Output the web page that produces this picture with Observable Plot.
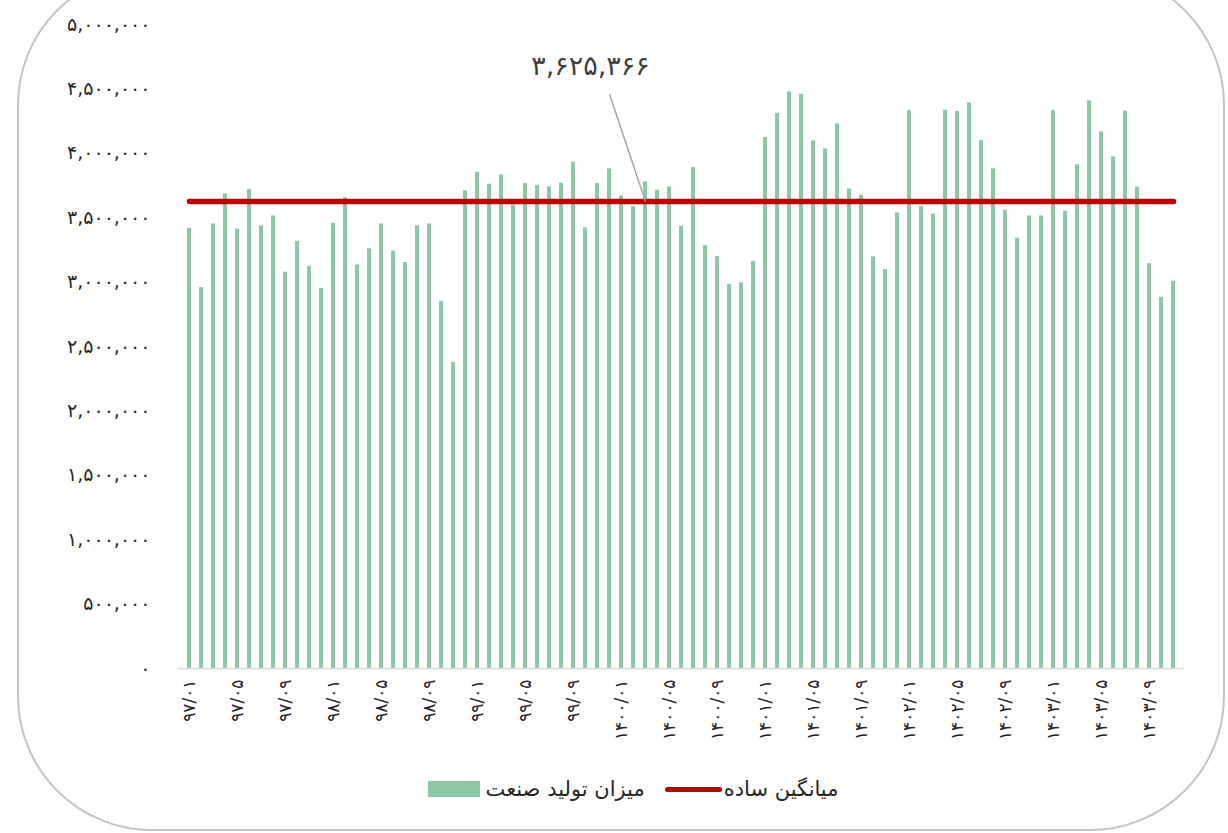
<!DOCTYPE html>
<html>
<head>
<meta charset="utf-8">
<script src="https://cdn.jsdelivr.net/npm/d3@7"></script>
<script src="https://cdn.jsdelivr.net/npm/@observablehq/plot@0.6"></script>
<style>
  html, body { margin: 0; padding: 0; background: #fff; }
  #wrap { position: relative; width: 1228px; height: 833px; overflow: hidden; font-family: "DejaVu Sans", sans-serif; }
  #frame { position: absolute; left: 17px; top: -30px; width: 1208px; height: 861px; box-sizing: border-box;
           border: 2.5px solid #c4c4c4; border-radius: 135px; pointer-events: none; }
  #legend { display: flex; direction: ltr; justify-content: center; align-items: center; margin-top: 7px;
            padding-left: 38px; font-size: 21px; color: #262626; height: 24px; }
  .sw { width: 52px; height: 16px; background: #8cc8a6; margin-right: 6px; }
  .ln { width: 57px; height: 5px; background: #c00000; border-radius: 3px; margin-left: 20px; margin-right: 2px; }
</style>
</head>
<body>
<div id="wrap">
  <div id="chart"></div>
  <div id="legend">
    <div class="sw"></div><span dir="rtl">میزان تولید صنعت</span>
    <div class="ln"></div><span dir="rtl">میانگین ساده</span>
  </div>
  <div id="frame"></div>
</div>
<script>
const periods = [
  "97/01","97/02","97/03","97/04","97/05","97/06","97/07","97/08","97/09","97/10","97/11","97/12",
  "98/01","98/02","98/03","98/04","98/05","98/06","98/07","98/08","98/09","98/10","98/11","98/12",
  "99/01","99/02","99/03","99/04","99/05","99/06","99/07","99/08","99/09","99/10","99/11","99/12",
  "1400/01","1400/02","1400/03","1400/04","1400/05","1400/06","1400/07","1400/08","1400/09","1400/10","1400/11","1400/12",
  "1401/01","1401/02","1401/03","1401/04","1401/05","1401/06","1401/07","1401/08","1401/09","1401/10","1401/11","1401/12",
  "1402/01","1402/02","1402/03","1402/04","1402/05","1402/06","1402/07","1402/08","1402/09","1402/10","1402/11","1402/12",
  "1403/01","1403/02","1403/03","1403/04","1403/05","1403/06","1403/07","1403/08","1403/09","1403/10","1403/11"
];
const production = [
  3418000, 2957000, 3452000, 3685000, 3410000, 3718000, 3436000, 3514000, 3077000, 3317000, 3123000, 2950000,
  3457000, 3656000, 3133000, 3258000, 3452000, 3240000, 3152000, 3436000, 3452000, 2851000, 2375000, 3708000,
  3853000, 3760000, 3832000, 3599000, 3765000, 3749000, 3739000, 3767000, 3931000, 3421000, 3765000, 3879000,
  3669000, 3586000, 3778000, 3713000, 3739000, 3434000, 3889000, 3283000, 3198000, 2983000, 2994000, 3159000,
  4122000, 4311000, 4477000, 4458000, 4096000, 4034000, 4228000, 3723000, 3674000, 3195000, 3097000, 3537000,
  4332000, 3589000, 3527000, 4334000, 4324000, 4391000, 4099000, 3879000, 3558000, 3341000, 3514000, 3514000,
  4332000, 3550000, 3910000, 4407000, 4166000, 3972000, 4327000, 3737000, 3143000, 2882000, 3007000
];
const meanValue = 3625366;
const yTicks = [0, 500000, 1000000, 1500000, 2000000, 2500000, 3000000, 3500000, 4000000, 4500000, 5000000];
const xTicks = periods.filter((d, i) => i % 4 === 0);

const faDigits = "۰۱۲۳۴۵۶۷۸۹";
const toFa = s => String(s).replace(/\d/g, c => faDigits[+c]);
const fmt = d => toFa(d3.format(",")(d));

const data = periods.map((p, i) => ({period: p, value: production[i]}));

const chart = Plot.plot({
  width: 1228,
  height: 770,
  marginLeft: 178,
  marginRight: 44,
  marginTop: 24,
  marginBottom: 102,
  style: {fontFamily: "DejaVu Sans, sans-serif", fontSize: "16px", color: "#262626", background: "transparent"},
  x: {type: "band", domain: periods, padding: 0},
  y: {domain: [0, 5000000]},
  marks: [
    Plot.barY(data, {x: "period", y: "value", fill: "#8cc8a6", insetLeft: 4, insetRight: 4}),
    Plot.ruleY([0], {stroke: "#d9d9d9", strokeWidth: 1.5}),
    Plot.line(periods, {x: d => d, y: () => meanValue, stroke: "#c00000", strokeWidth: 5.5, strokeLinecap: "round"}),
    Plot.link([0], {x1: () => periods[35], y1: () => 4460000, x2: () => periods[38], y2: () => meanValue, stroke: "#a6a6a6", strokeWidth: 1.5}),
    Plot.text([0], {x: () => periods[38], y: () => meanValue, text: () => fmt(meanValue), dx: -55, dy: -135, fontSize: 27, fill: "#404040"}),
    Plot.axisY({ticks: yTicks, tickFormat: fmt, tickSize: 0, tickPadding: 28, fontSize: 19, label: null, fill: "#262626"}),
    Plot.axisX({ticks: xTicks, tickFormat: toFa, tickRotate: -90, tickSize: 0, tickPadding: 11, fontSize: 17, label: null, fill: "#262626"})
  ]
});
document.getElementById("chart").appendChild(chart);
</script>
</body>
</html>
